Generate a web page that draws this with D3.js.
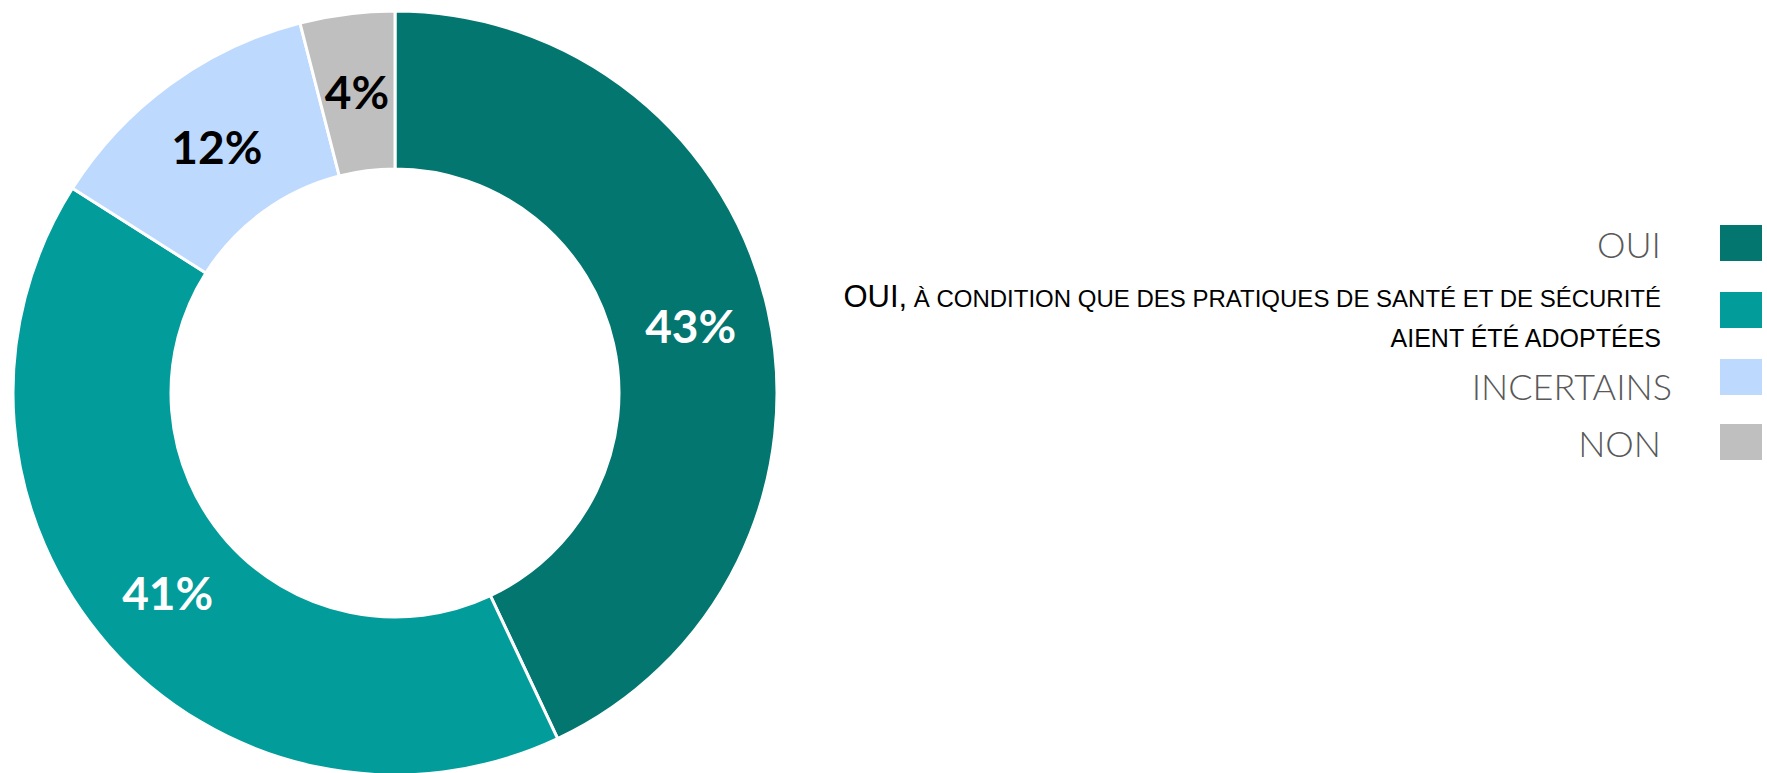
<!DOCTYPE html>
<html>
<head>
<meta charset="utf-8">
<script src="https://cdn.jsdelivr.net/npm/d3@7"></script>
<style>
  html, body { margin: 0; padding: 0; background: #fff; }
</style>
</head>
<body>
<div id="chart"></div>
<script>
const categories = ["OUI", "OUI, À CONDITION QUE DES PRATIQUES DE SANTÉ ET DE SÉCURITÉ AIENT ÉTÉ ADOPTÉES", "INCERTAINS", "NON"];
const values = [43, 41, 12, 4];
const colors = ["#02766f", "#029d9a", "#bdd9fe", "#bfbfbf"];
const labelColors = ["#fff", "#fff", "#000", "#000"];

const width = 1767, height = 773;
const cx = 395, cy = 393, outerR = 382, innerR = 224;

const svg = d3.select("#chart").append("svg")
    .attr("width", width)
    .attr("height", height)
    .attr("viewBox", [0, 0, width, height]);

const pie = d3.pie().sort(null).value(d => d.value);
const arc = d3.arc().innerRadius(innerR).outerRadius(outerR);

const data = categories.map((c, i) => ({ name: c, value: values[i], i }));

const g = svg.append("g").attr("transform", `translate(${cx},${cy})`);

g.selectAll("path")
  .data(pie(data))
  .join("path")
    .attr("d", arc)
    .attr("fill", d => colors[d.data.i])
    .attr("stroke", "#fff")
    .attr("stroke-width", 3);

g.selectAll("text")
  .data(pie(data))
  .join("text")
    .attr("transform", d => `translate(${arc.centroid(d)})`)
    .attr("text-anchor", "middle")
    .attr("dy", "0.36em")
    .attr("font-family", "Lato")
    .attr("font-weight", "bold")
    .attr("font-size", 46)
    .attr("fill", d => labelColors[d.data.i])
    .text(d => d.data.value + "%");

// legend
const legendRows = [243, 310, 377, 442];
const legend = svg.append("g");

legend.selectAll("rect")
  .data(data)
  .join("rect")
    .attr("x", 1720)
    .attr("y", (d, i) => legendRows[i] - 18)
    .attr("width", 42)
    .attr("height", 36)
    .attr("fill", d => colors[d.i]);

const textRight = 1661;
const grayText = (txt, y, x) => legend.append("text")
    .attr("x", x)
    .attr("y", y)
    .attr("text-anchor", "end")
    .attr("font-family", "Lato")
    .attr("font-weight", 300)
    .attr("font-size", 36)
    .attr("fill", "#595959")
    .text(txt);

grayText(categories[0], 258, textRight);
grayText(categories[2], 400, 1672);
grayText(categories[3], 457, textRight);

// second item: "OUI" larger, rest smaller on two lines
const [head, rest] = categories[1].split(", ");
const restWords = rest.split(" ");
const line1 = restWords.slice(0, 10).join(" ");
const line2 = restWords.slice(10).join(" ");

const t1 = legend.append("text")
    .attr("x", textRight)
    .attr("y", 307)
    .attr("text-anchor", "end")
    .attr("font-family", "Liberation Sans")
    .attr("fill", "#000");
t1.append("tspan").attr("font-size", 31).text(head + ",");
t1.append("tspan").attr("font-size", 24).text(" " + line1);

legend.append("text")
    .attr("x", textRight)
    .attr("y", 347)
    .attr("text-anchor", "end")
    .attr("font-family", "Liberation Sans")
    .attr("font-size", 25)
    .attr("fill", "#000")
    .text(line2);
</script>
</body>
</html>
